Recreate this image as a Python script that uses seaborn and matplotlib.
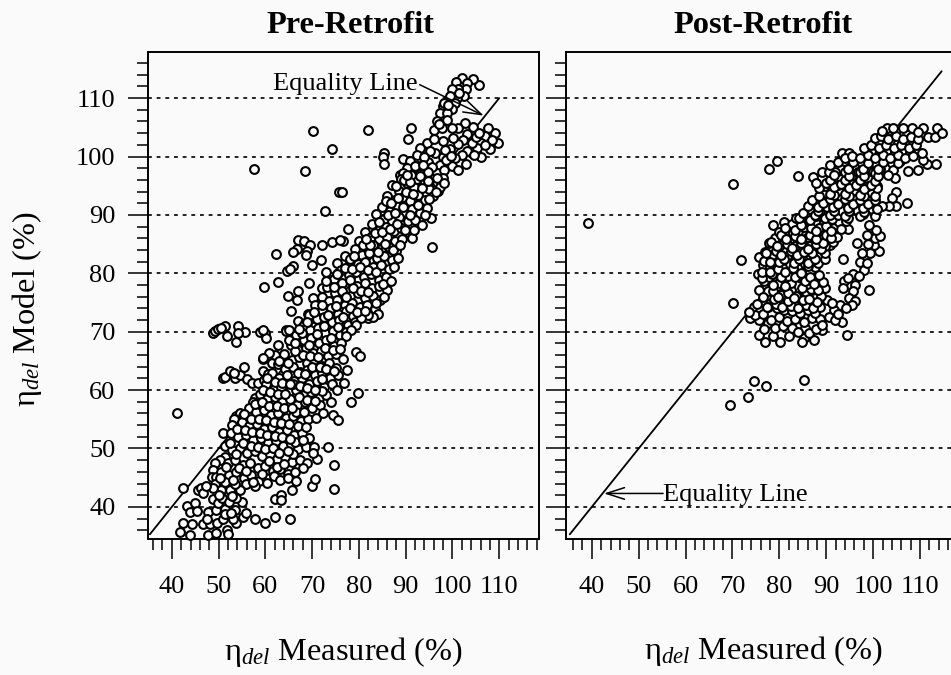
import matplotlib
matplotlib.use("Agg")
import matplotlib.pyplot as plt
from matplotlib.ticker import MultipleLocator
import pandas as pd
import seaborn as sns

# values: (measured, model)
pre_outliers = [(70.1,104.4),(74.2,101.3),(57.5,97.9),(68.4,97.6),(75.7,94),(72.7,90.7),(81.9,104.6),(91.1,104.9),(90.4,103),
    (85.3,100.6),(85.1,100),(85.3,98.8),(95.6,84.5),(76.3,94),(77.6,87.6),(76.5,85.5),(41,56.1),(42.4,43.3)]
pre_arm = [(66.9,85.7),(68.2,85.6),(69.5,84.9),(66.7,84.2),(65.9,83.7),(69,83.8),(68.6,83.2),(62.2,83.3),(72,84.9),(74.2,85.4),
    (75.9,85.7),(71.8,82.2),(69.9,81.5),(75.3,81.8),(65.9,81.3),(64.6,80.4),(65.2,80.8),(75.5,80.1),(62.6,78.5),(59.7,77.7),
    (69.3,78.4),(66.9,77),(72,77.5),(74.2,78),(64.8,76.2),(66.8,75.5),(65.5,73.5),(67,71.8),(68.4,71.5),(64.5,70.3),
    (70.2,75.8),(71.5,74.1),(69.2,73),(72.6,72.4),(70.6,71),(73.4,76.5),(73,80.3),(77,83),(78,82)]
pre_shelf70 = [(48.7,69.75),(49.3,70.1),(49.9,70.4),(51.3,70.9),(50.6,70.6),(51.7,69.2),(53.8,68.3),(54.2,70.9),(55.7,70),(54.2,69.75),
    (58.8,70),(59.9,69.75),(60.2,68.9),(59.4,70.3),(64.5,70.2),(65.1,70.3)]
pre_shelf62 = [(51,62),(51.3,62.3),(52.4,63.3),(53.5,62),(54.5,62.6),(55.4,63.9),(56.1,61.9),(57.2,61.3),(58.4,61.3),(59.5,63.3),
    (59.4,65.3),(59.7,61.7),(62.7,67.8),(53.2,63),(60.6,62.8),(61.4,64.6),(62,66),(60.8,66.4)]
pre_upper_branch = [(105.6,112.3),(104.3,113.2),(102,113.4),(100.7,112.8),(103.2,112.6),(102.8,111.6),(101.1,111.5),(99.8,111.5),
    (102.4,110.3),(100.9,110),(99.4,110.3),(100.5,109.2),(97.9,108.6),(99.8,108.2),(97.3,107.5),(98.8,107.5),(96.8,106),(98.8,106.3),
    (96,104.6),(97.7,104.8),(97.2,105.5),(98.2,109.2),(99,108.9),(101.4,110.8)]
pre_tip = [(109.7,102.4),(109,104),(107.5,104.8),(106.9,103.5),(108.4,102.9),(106.2,100),(108,101.3),(106.2,102.4),(105.2,101.5),
    (104.3,105.1),(102.6,105.8),(101.1,104.8),(99.8,104.8),(103.2,103.8),(102.2,102.9),(104.1,102.4),(101.1,102.2),(103.2,100.9),
    (102,100.3),(99.4,101.3),(97.9,102.6),(96.2,100.6),(94.5,102.4),(93,101.5),(92.4,100.3),(89.4,99.6),(97.9,100),(100.5,99.8),
    (102.8,98.8),(100,98.4),(97.3,98.6),(94.7,99.1),(92.6,98.3),(91.3,97.7),(94.3,96.9),(96.8,97.2),(101.1,97.7),(88.7,96.9),
    (105,103.3),(107,102),(104.6,100.3),(100.2,103.1),(98.4,101.2),(95.3,101),(93.9,100),(91,99.3),(95.7,98.2),(98.6,99.4),
    (90.2,98),(89.4,97.2),(93,97),(98.2,97.7),(99.6,100.1),(96,103),(105.6,104.1)]
pre_top_band = [(87,95.2),(88.6,94.1),(90.2,95.5),(91.8,94.8),(93.4,95.9),(95,94.4),(96.6,95.6),(98,96.3),(86,93.3),(87.8,92.6),
    (89.4,93.1),(91,92.4),(92.7,93.4),(94.2,92.5),(95.8,93.2),(97,94.1),(85,91.4),(86.6,90.7),(88.1,91.6),(89.8,90.5),
    (91.4,91),(93,90.4),(94.6,91.2),(95.4,89.4),(83.6,90.1),(85.4,89.3),(87,89),(88.6,89.7),(90.4,88.9),(92,89.2),
    (93.4,88.3),(82.8,88.4),(84.2,87.5),(85.8,88),(87.4,87.2),(89,87.8),(90.6,87),(91.4,86.1),(81.2,87),(82.6,86.2),
    (84.4,85.8),(86,86.3),(87.8,85.5),(89.2,85.9),(80,85.6),(81.4,84.6),(83,84.9),(84.8,84.1),(86.4,84.5),(88,83.9),
    (79.2,84.1),(80.6,83.1),(82.2,83.4),(83.8,82.6),(85.4,83),(87,82.2),(88.4,82.6),(78,82.5),(79.8,81.6),(81.4,81.9),
    (83,81.1),(84.8,81.5),(86.4,80.7),(87.6,81),(88.9,96.1),(92.4,96.2),(94.8,97.3),(97.3,94.8),(91.2,96.8),(85.8,92.4)]
pre_mid_band = [(76.2,80.6),(77.8,79.7),(79.4,80.2),(81,79.4),(82.6,79.9),(84.2,78.9),(85.8,79.4),(74.6,79.1),(76.4,78.4),(78,78.8),
    (79.6,77.9),(81.2,78.3),(82.8,77.4),(84.4,77.8),(86,77.2),(73.2,77.6),(74.8,76.7),(76.4,77),(78.2,76.2),(79.8,76.6),
    (81.4,75.7),(83,76.1),(84.6,75.4),(72,76),(73.6,75.2),(75.4,75.5),(77,74.6),(78.6,75),(80.2,74.2),(81.8,74.6),
    (83.4,73.9),(70.6,74.6),(72.2,73.7),(74,74),(75.6,73.1),(77.2,73.5),(78.8,72.7),(80.4,73.1),(82,72.4),(84,73),
    (69.4,72.9),(71,72.1),(72.6,72.5),(74.2,71.6),(75.8,72),(77.6,71.2),(79.2,71.6),(83,72.6),(81.9,72.9),(80.5,72.3),
    (68,71),(69.6,70.3),(71.2,70.7),(72.8,69.8),(74.4,70.2),(76,69.4),(77.3,69.9),(79.4,71.2),(78.4,70.3),(77.3,69.2),
    (66.6,69.4),(68.2,68.6),(69.8,69),(71.4,68.1),(73,68.5),(74.6,67.6),(76.2,68),(65.4,67.7),(67,66.8),(68.6,67.2),
    (70.2,66.3),(71.8,66.7),(73.4,65.8),(75,66.2),(76.6,65.4),(79.3,66.6),(80.3,65.9),(64,66.1),(65.6,65.2),(67.2,65.6),
    (68.8,64.7),(70.4,65.1),(72,64.2),(73.6,64.6),(75.2,63.7),(62.6,64.5),(64.2,63.6),(65.8,64),(67.4,63.1),(69,63.5),
    (70.6,62.6),(72.2,63),(73.8,62.1),(75.6,62.5),(77.4,63.4),(76.8,61.3),(61.4,63),(63,62.1),(64.6,62.5),(66.2,61.6),
    (67.8,62),(69.4,61.1),(71,61.5),(72.6,60.6),(74.2,61),(75.4,60.1)]
pre_low_band = [(59.4,65.5),(60.2,61),(61.8,60.2),(63.4,60.6),(65,59.7),(66.6,60.1),(68.2,59.2),(69.8,59.6),(71.4,58.7),(73,59.1),
    (72,59.8),(79.9,59.5),(78.4,58),(74,58),(57.7,58.6),(57.4,57.9),(58.8,59.3),(60.4,58.5),(62,58.9),(63.6,58),
    (65.2,58.4),(66.8,57.5),(68.4,57.9),(70,57),(71.6,57.4),(56.4,57),(58,56.2),(59.6,56.6),(61.2,55.7),(62.8,56.1),
    (64.4,55.2),(66,55.6),(67.6,54.7),(69.2,55.1),(70.8,55.2),(72.3,56),(74.5,55.8),(75.5,54.9),(53.8,55.6),(54.5,56),
    (55.2,55.5),(53.2,55),(55,54.5),(56.6,53.8),(58.2,54.2),(59.8,53.3),(61.4,53.7),(63,52.8),(64.6,53.2),(66.2,52.3),
    (67.8,52.7),(69.4,51.8),(52.8,54.1),(51,52.6),(52.6,52.7),(54.2,51.9),(55.8,52.3),(57.4,51.4),(59,51.8),(60.6,50.9),
    (62.2,51.3),(63.8,50.4),(65.4,50.8),(67,49.9),(68.6,50.3),(73.4,50.3),(70.5,50.2),(71.1,48.2),(70.2,49.2),(51.3,50.5),
    (52.9,49.7),(54.5,50.1),(56.1,49.2),(57.7,49.6),(59.3,48.7),(60.9,49.1),(62.5,48.2),(64.1,48.6),(65.7,47.7),(67.3,48.1),
    (68.8,47.6),(74.6,47.2),(51.3,48.6),(50.4,48),(52,47.6),(53.6,48),(55.2,47.1),(56.8,47.5),(58.4,46.6),(60,47),
    (61.6,46.1),(63.2,46.5),(64.8,45.6),(66.4,46),(68.1,46.7),(49.2,47.5),(48.8,46.3),(48.5,45.2),(49.5,45.2),(49.2,44),
    (50.6,46),(52.2,45.5),(53.8,45.9),(55.4,45),(57,45.4),(58.6,44.5),(60.2,44.9),(61.8,45.3),(63.1,44.6),(64.9,44.9),
    (66.6,44.4),(60.4,44.1),(57.7,43.5),(55.96,44),(54.5,42.9),(52.4,42.9),(50.6,42.9),(48.8,43.2),(51.4,44.2),(53.4,43.9)]
pre_bottom = [(41.7,35.7),(42.3,37.2),(43.9,35.2),(44.4,37),(43.3,40.1),(44.9,40.6),(43.9,39.2),(45.3,39.3),(45.6,42.9),(46.3,43.2),
    (46.7,42.3),(46.7,37),(48.1,37),(47.8,35.2),(49.4,35.6),(49.7,37.3),(51.8,36),(52,35.3),(53.8,37.3),(57.7,37.9),
    (59.9,37.2),(62,38.3),(65.2,37.9),(55.2,38.3),(55.9,38.9),(54.9,40.9),(53.1,38),(50.97,38),(47.8,39.2),(49.5,39.4),
    (51.3,39.7),(53.5,39.4),(47.6,38),(48.8,41.4),(47.4,43.5),(62,41.4),(63.4,42),(63.4,41.2),(65.6,42.9),(70,43.6),
    (70.6,44.8),(74.6,43),(49.8,40.6),(50.8,41.6),(52.2,40.8),(53.8,41.6),(51.4,38.8),(52.6,39),(50,42),(52.8,41.9)]
# second pass over the dense band, the rings sitting between those above
pre_between = [(50.2,44.9),(51.6,46.8),(53,44.6),(54.4,46.6),(55.8,46.2),(57.3,44.2),(59.2,45.7),(60.8,47.8),(62.4,46.9),(64,47.3),
    (66,49),(52.4,50.9),(53.7,49),(55.2,51),(56.9,50.4),(58.5,50.2),(60,49.9),(61.6,50),(63,49.3),(64.8,49.5),
    (66.4,51.1),(68,51.4),(54,53.3),(55.6,53.1),(57.2,52.8),(58.8,52.7),(60.4,52.3),(62,52.1),(63.6,51.9),(65.2,51.7),
    (67,53.8),(68.6,53.6),(55.4,55.9),(57,55),(58.6,55.1),(60.2,54.8),(61.8,54.6),(63.4,54.4),(65,54.2),(66.6,56.2),
    (68.2,56.3),(57.8,57.6),(59.2,57.9),(60.8,57.3),(62.4,57.2),(64,56.9),(65.6,56.9),(67.2,58.9),(69,58.3),(70.6,58.2),
    (59.4,60.1),(61,59.6),(62.6,59.4),(64.2,59.3),(65.8,61),(67.4,60.7),(69,60.4),(70.6,60.1),(72,61.9),(60.4,62),
    (62,61.4),(63.6,61.2),(65.2,61),(67,63),(68.4,62.8),(70,64),(71.6,63.9),(73,63.6),(74.6,63.2),(63,65),
    (64.8,64.7),(66.4,66.7),(68,66),(69.6,65.9),(71.2,65.6),(72.8,67.2),(74.4,66.9),(76,67),(65,68.5),(66.4,68),
    (67.9,69.8),(69.4,67.8),(71,69.6),(72.6,71),(74,68.9),(75.6,70.8),(67.2,70.4),(69,71.6),(70.4,73.4),(72,74.6),
    (73.4,72.9),(75,74.4),(76.6,72.6),(78,74),(79.6,73.4),(81.2,73.6),(72.9,78.6),(74.6,77.6),(77.2,76),(78.8,77.4),
    (80.4,77),(82,76.8),(83.6,75),(85.4,76),(75.4,79.8),(77,80.9),(78.6,80.8),(80.2,81),(81.9,80.6),(83.6,80.2),
    (85.2,78.2),(86.8,78.6),(79,83),(80.8,84.9),(82.4,84.8),(84,83.6),(85.6,85),(87.2,84),(88.8,84.9),(81.6,85.8),
    (83.4,86.9),(85,87),(86.6,87.6),(88.2,88.4),(89.8,87.5),(91.8,87.5),(84.4,88.8),(86.2,90),(87.8,90.4),(89.4,91.4),
    (91,90),(92.6,91.7),(94.2,90),(86.8,92),(88.4,92.9),(90,94),(91.6,93.6),(93.4,94.6),(95,92.8),(96.4,94),
    (88,95),(89.6,96),(91,95.6),(93,96.6),(94.8,95.8),(96.6,96.4),(98.2,95.4),(90.2,96.8),(92,98.4),(93.6,98.6)]

post_outliers = [(39.2,88.6),(70.2,95.3),(77.7,97.9),(79.5,99.2),(83.9,96.7),(78.6,88.2),(71.8,82.3),(107.2,92),(93.6,82.4),(70.2,75),
    (69.5,57.4),(73.4,58.9),(74.5,61.6),(77.1,60.7),(85.2,61.8),(94.5,69.5),(93.3,71.7),(99.2,77.2),(101.2,83.8),(104.9,93.9),
    (104,92.9),(104.9,91.6),(103.3,91.6),(101.9,91.6)]
post_bottom = [(75.6,69.5),(77,68.3),(78.6,69.2),(80.2,68.3),(82,69.2),(85.2,68.9),(84.8,68.3),(87.4,68.6),(89.1,70.3),(85.5,70.6),
    (77.5,71.5),(73.8,72.3),(74.5,74.3),(75.9,73.5),(75.6,72),(79,70.7),(80.8,70.9),(82.6,70.6),(84,70),(86.4,69.8),
    (87.8,70.5),(76.8,70.4),(78.2,72),(80,72.5),(81.6,71.9),(83.4,72.1),(85.2,71.7),(87,72.3),(88.7,72.2),(74.8,72.9),
    (76.6,73),(73.6,73.4),(77.6,74.3),(79.4,74),(81,73.8),(82.8,73.6),(84.4,73.2),(86.2,73.8),(87.7,73.2),(89.1,71.2)]
post_arc = [(97.2,82),(98,80.6),(95.8,79.8),(93.7,78.6),(96.2,78),(93.6,77.5),(95.8,76.9),(94.8,75.8),(96.2,75.2),(93,74.6),
    (95.5,74.6),(91.6,73.8),(90.1,75.5),(90.5,72.6),(91.9,72),(100.1,84.9),(99.4,83.5),(100.4,86),(98.7,86.6),(96.5,85.2),
    (101.5,86.4),(99,85),(97.7,83.5),(92.5,73),(94.2,74),(91.2,75),(94.6,79.2),(97,79.6),(98.6,81.8),(100.5,87.5),(99.2,88.2)]
post_mass = [(76.2,75.1),(78.1,76.2),(79.2,74.7),(81.3,75.9),(82.4,74.4),(84.5,75.8),(85.6,74.6),(87.7,75.7),(88.6,74.3),(75.7,77.2),
    (77.6,76.9),(79.3,77.6),(80.3,76.3),(82.5,77.1),(83.5,76.2),(85.7,76.8),(86.8,77.3),(88.9,76.1),(89.8,77.4),(76.7,78.6),
    (77.7,79.3),(79.9,78.4),(81.5,79.1),(82.5,78.3),(84.7,79.2),(85.8,78.1),(87.9,78.9),(89.2,78.5),(75.5,79.9),(77,80.6),
    (78.5,79.8),(80.7,80.5),(81.8,79.5),(83.9,80.4),(84.9,79.6),(86.6,80.3),(88.5,79.7),(76.5,81.4),(78.1,81.1),(79.1,81.7),
    (81.3,81),(82.3,81.6),(84.5,80.9),(85.5,81.6),(87.7,81),(88.3,81.7),(75.6,82.8),(77.5,82.4),(78.5,83.1),(80.7,82.3),
    (81.7,83),(83.9,82.3),(84.9,83),(87.1,82.2),(88.1,83),(89.7,82.4),(76.9,83.6),(77.9,84.5),(80.1,83.4),(81.1,84.4),
    (83.3,83.3),(84.3,84.4),(86.5,83.2),(87.5,84.3),(89.7,83.5),(90.7,84.9),(77.7,85.2),(79.1,86),(80.1,84.8),(82.3,85.9),
    (83.3,84.7),(85.5,85.8),(86.5,84.6),(88.7,85.7),(89.7,84.6),(91.5,85.4),(79.9,87.1),(80.7,86.3),(82.9,86.9),(83.9,87.3),
    (86.1,86.2),(87.1,87.2),(89.3,86.1),(90.3,87.2),(92.3,86.2),(80.9,88.8),(82.7,88.4),(83.5,89.5),(85.3,88),(86.3,89),
    (88.5,87.8),(89.5,89),(91.7,87.7),(92.7,88.8),(94.7,87.6)]
post_upper = [(85.1,90.3),(87.5,90),(88.3,90.6),(90.7,90),(91.7,90.6),(93.9,89.9),(94.9,90.6),(97.1,89.8),(98.1,90.5),(100.3,89.8),
    (86.1,91.6),(88.3,91.3),(89.3,92),(91.5,91.3),(92.5,91.9),(94.7,91.2),(95.7,91.8),(97.9,91.1),(98.9,91.8),(100.9,91),
    (86.9,92.6),(88.4,93.3),(90.7,92.8),(91.7,93.4),(93.9,92.7),(94.9,93.3),(97.1,92.6),(98.1,93.2),(100.3,92.5),(88.5,94.6),
    (90.7,93.6),(91.7,94.7),(93.9,93.5),(94.9,94.6),(97.1,93.4),(98.1,94.5),(100.3,93.3),(100.9,94.6),(87.2,96.5),(87.8,95.5),
    (89,97.4),(89.9,95.4),(90.9,96),(93.1,95.3),(94.1,96),(96.3,95.2),(97.3,95.9),(99.5,95.1),(100.3,95.8),(90.6,97.3),
    (91.7,96.9),(93.9,97.4),(94.9,96.7),(97.1,97.3),(98.1,96.6),(100.3,97.2),(101.1,96.6),(90.7,98.6),(92.5,99),(94.7,97.9),
    (95.7,99),(97.9,97.8),(98.9,98.9),(101.1,97.8),(102.1,99),(104.3,97.7),(105.3,98.9),(107.5,97.6),(104.7,96.4),(103.2,96.9)]
post_top = [(93.3,100.6),(94.9,100.6),(93.9,99.7),(95.5,100.1),(97.2,99.8),(98.8,100.3),(100.4,99.8),(102,100.3),(103.6,99.8),(105.2,100.2),
    (106.8,99.7),(108.4,100.1),(109.5,97.7),(111.5,98.7),(113.4,98.7),(110.6,99.4),(98,101.4),(99.6,102),(101.2,101.5),(102.8,102),
    (104.4,101.4),(106,101.9),(107.6,101.4),(109.2,101.9),(110.4,100.6),(100.4,103.2),(101.6,103.6),(103.2,103),(104.8,103.5),(106.4,103),
    (108,103.4),(109.6,103),(111.8,103.4),(113.2,103.4),(110.7,104.9),(113.6,104.9),(114.6,104.1),(102.9,104.9),(104.2,104.9),(106.4,104.9),
    (108.2,104.9),(101.8,104.4),(109.6,104.2)]
post_between = [(75.3,74.8),(77.3,74.2),(78.9,75.6),(80.5,74.2),(81.9,75.3),(83.9,74.1),(85.1,75.4),(87.2,74.1),(88.1,75.1),(76.6,76),
    (78.7,76.9),(79.7,75.9),(81.9,76.7),(83.1,75.7),(84.9,77.4),(86.3,75.6),(88.2,77.1),(76.2,79.2),(78.7,78),(80.3,79.3),
    (81.1,77.9),(83.4,79.4),(85.5,78.7),(86.5,79.4),(87.4,78.1),(76.3,80.2),(78.1,80.2),(79.8,80.8),(81.3,80.2),(83,80.9),
    (84.7,80.1),(86.2,81.2),(76.8,82.1),(77.9,81.9),(80,81.9),(80.9,82.4),(83.1,81.8),(84.2,82.5),(86.2,81.8),(87.6,82.4),
    (77.2,83.5),(79.2,83.9),(80.4,83.1),(82.4,83.9),(83.7,83.1),(85.3,83.7),(87,83.5),(88.8,84.1),(78.2,85.3),(79.5,84.6),
    (81.6,85.1),(82.8,84.4),(84.7,85.2),(86,84.2),(87.9,85.1),(89.3,85.2),(80.3,86.5),(81.5,85.9),(83.4,86.4),(84.6,85.9),
    (86.6,86.6),(87.9,85.9),(89.9,86.6),(91.1,86.1),(81.2,87.8),(83.3,87.5),(84.6,88.2),(86.7,87.7),(87.9,87.3),(90,88.1),
    (91.1,87.3),(93.2,87.6),(84.2,89.5),(86.6,89.2),(87.9,89.9),(89.7,89.4),(91.2,89.3),(92.6,90),(94.2,88.9),(86.6,91),
    (88.7,90.6),(90.1,91.3),(91.4,90.7),(93.4,90.7),(94.6,89.5),(96.5,90.9),(97.8,90.2),(99.7,91),(89.2,92.4),(91.4,92.1),
    (92.7,92.8),(94.6,92.1),(96,92.8),(97.4,92),(99.4,92.4),(89.8,95),(91.2,94.4),(92.5,95.2),(94.5,94.4),(95.7,95.3),
    (97.6,94.4),(98.8,95),(100.8,94.9),(91.9,97.3),(93.1,96.2),(94.6,97.8),(96.7,97.4),(97.8,98.3),(99.9,97.4),(101.4,97.9),
    (93.8,99.2),(96.1,99.5),(97.6,98.9),(99.3,99.4),(100.5,98.8),(102.4,99.5),(104.1,98.9),(105.7,99.3),(99.5,101),(101.8,100.7),
    (103,101.1),(104.6,100.6),(106.6,100.9),(107.9,100.7),(102.6,103.4),(105.4,102.3),(107,102.4),(108.6,102.3)]

pre_sets = [pre_outliers, pre_arm, pre_shelf70, pre_shelf62, pre_upper_branch, pre_tip, pre_top_band, pre_mid_band, pre_low_band, pre_between, pre_bottom]
post_sets = [post_outliers, post_bottom, post_arc, post_mass, post_between, post_upper, post_top]
grid_levels = [40, 50, 60, 70, 80, 90, 100, 110]
x_ticks = [40, 50, 60, 70, 80, 90, 100, 110]

def to_frame(sets):
    rows = [p for s in sets for p in s]
    return pd.DataFrame(rows, columns=["measured", "model"])

sns.set_theme(style="white")
paper = "#fafafa"
plt.rcParams["font.family"] = ["Liberation Serif", "DejaVu Serif"]
plt.rcParams["mathtext.fontset"] = "custom"
plt.rcParams["mathtext.rm"] = "Liberation Serif"
plt.rcParams["mathtext.it"] = "Liberation Serif:italic"

W, H = 951, 675
fig = plt.figure(figsize=(W / 100, H / 100), dpi=100, facecolor=paper)
ax1 = fig.add_axes([148 / W, 1 - 539 / H, (538.5 - 148) / W, (539 - 52) / H], facecolor=paper)
ax2 = fig.add_axes([566 / W, 1 - 539 / H, (W - 566) / W, (539 - 52) / H], facecolor=paper)

for ax, sets, xlim, line_end in [
    (ax1, pre_sets, (34.9, 118.4), 110),
    (ax2, post_sets, (34.5, 116.6), 114.6),
]:
    for lev in grid_levels:
        ax.axhline(lev, color="black", lw=1.2, ls=(0, (2.3, 2.9)), zorder=1)
    ax.plot([35.3, line_end], [35.3, line_end], color="black", lw=1.3, zorder=2)
    sns.scatterplot(data=to_frame(sets), x="measured", y="model", ax=ax, marker="o", s=40,
                    color="white", edgecolor="black", linewidth=1.5, zorder=3, clip_on=False)
    ax.set_xlim(*xlim)
    ax.set_ylim(34.5, 117.9)
    ax.set_xticks(x_ticks)
    ax.set_yticks(grid_levels)
    ax.xaxis.set_minor_locator(MultipleLocator(2))
    ax.yaxis.set_minor_locator(MultipleLocator(2))
    ax.tick_params(which="major", direction="out", length=14.5, width=1.1, color="black", bottom=True, left=True)
    ax.tick_params(which="minor", direction="out", length=7.9, width=1.1, color="black", bottom=True, left=True)
    ax.tick_params(axis="x", labelsize=19, pad=12, labelcolor="black")
    ax.tick_params(axis="y", labelsize=19, pad=9, labelcolor="black")
    ax.set_xlabel("")
    ax.set_ylabel("")
    for s in ax.spines.values():
        s.set_color("black")
        s.set_linewidth(1.4)

ax2.tick_params(axis="y", labelleft=False)
ax2.spines["right"].set_visible(False)

arrow = dict(arrowstyle="->,head_length=1.3,head_width=0.42", color="black", lw=1.1, shrinkA=0, shrinkB=0, mutation_scale=10)
ax1.text(61.6, 111.4, "Equality Line", fontsize=19, color="black", zorder=5)
ax1.annotate("", xy=(106.7, 107), xytext=(93, 112.3), arrowprops=arrow, zorder=5)
ax2.text(55.2, 41, "Equality Line", fontsize=19, color="black", zorder=5)
ax2.annotate("", xy=(42.6, 42.3), xytext=(55.2, 42.3), arrowprops=arrow, zorder=5)

fig.text(350 / W, 1 - 33 / H, "Pre-Retrofit", fontsize=23.3, fontweight="bold", ha="center", va="baseline", color="black")
fig.text(763 / W, 1 - 33 / H, "Post-Retrofit", fontsize=23.3, fontweight="bold", ha="center", va="baseline", color="black")
x_label = "η$_{\\mathit{del}}$ Measured (%)"
fig.text(343 / W, 1 - 660 / H, x_label, fontsize=23.3, ha="center", va="baseline", color="black")
fig.text(763 / W, 1 - 659 / H, x_label, fontsize=23.3, ha="center", va="baseline", color="black")
fig.text(27 / W, 1 - 309 / H, "η$_{\\mathit{del}}$ Model (%)", fontsize=23.3, rotation=90, ha="center", va="center", color="black")

fig.savefig("out.png", dpi=100, facecolor=paper)
